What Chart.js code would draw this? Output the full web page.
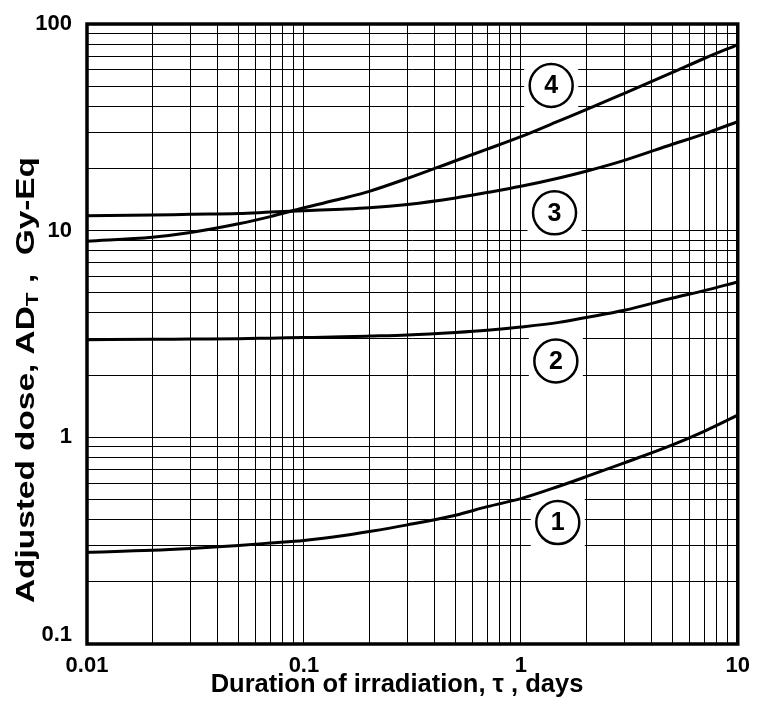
<!DOCTYPE html>
<html>
<head>
<meta charset="utf-8">
<script src="https://cdn.jsdelivr.net/npm/chart.js@4.4.0/dist/chart.umd.min.js"></script>
<style>
  html, body { margin: 0; padding: 0; background: #fff; }
</style>
</head>
<body>
<canvas id="doseChart" width="759" height="713"></canvas>
<script>
const durations = [0.01, 0.02, 0.03, 0.05, 0.07, 0.1, 0.15, 0.2, 0.3, 0.5, 0.7, 1, 1.5, 2, 3, 5, 7, 10];

// Adjusted dose, Gy-Eq, for each curve
const curve1 = [0.278, 0.284, 0.29, 0.30, 0.308, 0.317, 0.334, 0.35, 0.377, 0.42, 0.462, 0.505, 0.58, 0.645, 0.753, 0.92, 1.07, 1.28];
const curve2 = [2.97, 2.98, 2.99, 3.0, 3.02, 3.04, 3.065, 3.09, 3.13, 3.22, 3.3, 3.42, 3.6, 3.8, 4.12, 4.72, 5.13, 5.65];
const curve3 = [11.8, 11.9, 12.0, 12.1, 12.3, 12.5, 12.7, 12.9, 13.4, 14.4, 15.3, 16.4, 18.0, 19.4, 21.9, 26.2, 29.4, 33.7];
const curve4 = [8.9, 9.3, 9.8, 10.8, 11.7, 12.9, 14.3, 15.5, 17.9, 21.8, 24.8, 28.5, 34.0, 38.5, 46.2, 58.3, 68.1, 79.5];

// circled curve numbers and where they sit (data coords)
const curveNames = ['1', '2', '3', '4'];
const tagX = [1.48, 1.45, 1.43, 1.38];
const tagY = [0.387, 2.34, 12.2, 50.4];

const xTickLabels = ['0.01', '0.1', '1', '10'];
const yTickLabels = ['0.1', '1', '10', '100'];

const FONT = '"Liberation Sans", Arial, Helvetica, sans-serif';

// 1..9 x 10^n grid lines over the range
function logTicks(minExp, maxExp) {
    const out = [];
    for (let e = minExp; e < maxExp; e++) {
        for (let k = 1; k <= 9; k++) {
            out.push({ value: parseFloat((k * Math.pow(10, e)).toPrecision(6)) });
        }
    }
    out.push({ value: Math.pow(10, maxExp) });
    return out;
}

function findLabel(v, list) {
    return list.find(l => Math.abs(Math.log10(parseFloat(l)) - Math.log10(v)) < 1e-6);
}

const decorPlugin = {
    id: 'decor',
    beforeDraw(chart) {
        const c = chart.ctx;
        c.save();
        c.fillStyle = '#fff';
        c.fillRect(0, 0, chart.width, chart.height);
        c.restore();
    },
    afterDatasetsDraw(chart) {
        const c = chart.ctx;
        const xs = chart.scales.x, ys = chart.scales.y;
        const a = chart.chartArea;

        // circled curve numbers
        c.save();
        curveNames.forEach((name, i) => {
            const px = xs.getPixelForValue(tagX[i]);
            const py = ys.getPixelForValue(tagY[i]);
            c.fillStyle = '#fff';
            c.fillRect(px - 27, py - 24, 54, 48);
            c.beginPath();
            c.arc(px, py, 21.5, 0, Math.PI * 2);
            c.lineWidth = 2.5;
            c.strokeStyle = '#000';
            c.stroke();
            c.fillStyle = '#000';
            c.font = 'bold 25px ' + FONT;
            c.textAlign = 'center';
            c.textBaseline = 'middle';
            c.fillText(name, px, py + 1);
        });
        c.restore();

        // plot frame
        c.save();
        c.lineWidth = 3.5;
        c.strokeStyle = '#000';
        c.strokeRect(a.left, a.top, a.right - a.left, a.bottom - a.top);
        c.restore();

        // x title
        c.save();
        c.fillStyle = '#000';
        c.font = 'bold 25.5px ' + FONT;
        c.textAlign = 'center';
        c.textBaseline = 'alphabetic';
        c.fillText('Duration of irradiation, \u03C4 , days', 397, 692);
        c.restore();

        // y title with subscript T, stretched along its length like the original
        c.save();
        c.fillStyle = '#000';
        c.translate(34, 603);
        c.rotate(-Math.PI / 2);
        const big = 'bold 25px ' + FONT, small = 'bold 17px ' + FONT;
        const p1 = 'Adjusted dose, AD', p2 = 'T', p3 = ' ,  Gy-Eq';
        c.font = big; const w1 = c.measureText(p1).width; const w3 = c.measureText(p3).width;
        c.font = small; const w2 = c.measureText(p2).width;
        const sx = 446 / (w1 + w2 + w3);
        c.scale(sx, 1);
        c.font = big; c.fillText(p1, 0, 0);
        c.font = small; c.fillText(p2, w1, 4);
        c.font = big; c.fillText(p3, w1 + w2, 0);
        c.restore();
    }
};

const ctx = document.getElementById('doseChart').getContext('2d');

const series = [curve1, curve2, curve3, curve4];

const chart = new Chart(ctx, {
    type: 'line',
    data: {
        datasets: series.map((vals, i) => ({
            label: 'Curve ' + curveNames[i],
            data: durations.map((d, j) => ({ x: d, y: vals[j] })),
            borderColor: '#000',
            borderWidth: 3,
            pointRadius: 0,
            cubicInterpolationMode: 'monotone',
            fill: false
        }))
    },
    options: {
        responsive: false,
        animation: false,
        devicePixelRatio: 1,
        layout: { autoPadding: false, padding: { top: 20, right: 18, left: 0, bottom: 0 } },
        plugins: { legend: { display: false }, tooltip: { enabled: false } },
        scales: {
            x: {
                type: 'logarithmic',
                min: 0.01,
                max: 10,
                afterBuildTicks: s => { s.ticks = logTicks(-2, 1); },
                afterFit: s => { s.height = 69; },
                grid: { color: '#000', lineWidth: 1, drawTicks: false },
                border: { display: false },
                ticks: {
                    autoSkip: false,
                    maxRotation: 0,
                    minRotation: 0,
                    padding: 9,
                    color: '#000',
                    font: { family: FONT, size: 22, weight: 'bold' },
                    callback: v => findLabel(v, xTickLabels) || ''
                }
            },
            y: {
                type: 'logarithmic',
                min: 0.1,
                max: 100,
                afterBuildTicks: s => { s.ticks = logTicks(-1, 2); },
                afterFit: s => { s.width = 87; },
                grid: { color: '#000', lineWidth: 1, drawTicks: false },
                border: { display: false },
                ticks: {
                    autoSkip: false,
                    padding: 15,
                    color: '#000',
                    font: { family: FONT, size: 22, weight: 'bold', lineHeight: 0.82 },
                    // bottom label sits a little higher so it clears 0.01
                    callback: v => {
                        const l = findLabel(v, yTickLabels);
                        if (!l) return '';
                        return l === '0.1' ? [l, ''] : l;
                    }
                }
            }
        }
    },
    plugins: [decorPlugin]
});
</script>
</body>
</html>
